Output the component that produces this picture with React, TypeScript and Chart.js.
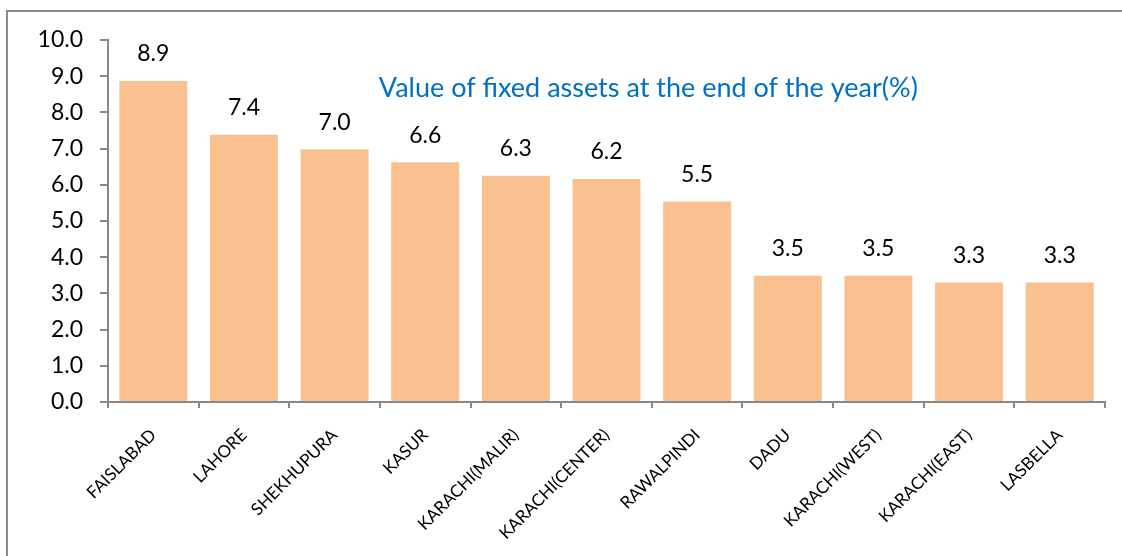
import React, { useEffect, useRef } from "react";
import { Chart, registerables } from "chart.js";

Chart.register(...registerables);

const categories = [
  "FAISLABAD",
  "LAHORE",
  "SHEKHUPURA",
  "KASUR",
  "KARACHI(MALIR)",
  "KARACHI(CENTER)",
  "RAWALPINDI",
  "DADU",
  "KARACHI(WEST)",
  "KARACHI(EAST)",
  "LASBELLA",
];
const values = [8.87, 7.38, 6.98, 6.62, 6.25, 6.16, 5.54, 3.49, 3.49, 3.3, 3.3];
const chartTitle = "Value of fixed assets at the end of the year(%)";
const yMin = 0;
const yMax = 10;
const yStep = 1;

const FONT = "Lato, 'Open Sans', sans-serif";
const AXIS = "#898989";

const framePlugin = {
  id: "frame",
  beforeDraw(chart: any) {
    const ctx = chart.ctx;
    ctx.save();
    ctx.fillStyle = "#ffffff";
    ctx.fillRect(0, 0, chart.width, chart.height);
    ctx.strokeStyle = "#8a8a8a";
    ctx.lineWidth = 2;
    ctx.beginPath();
    ctx.moveTo(7, chart.height + 2);
    ctx.lineTo(7, 11);
    ctx.lineTo(chart.width + 2, 11);
    ctx.stroke();
    ctx.restore();
  },
};

const valueLabelPlugin = {
  id: "valueLabels",
  afterDatasetsDraw(chart: any) {
    const ctx = chart.ctx;
    const meta = chart.getDatasetMeta(0);
    ctx.save();
    ctx.font = `23px ${FONT}`;
    ctx.fillStyle = "#000000";
    ctx.textAlign = "center";
    ctx.textBaseline = "middle";
    meta.data.forEach((bar: any, i: number) => {
      ctx.fillText(values[i].toFixed(1), bar.x, bar.y - 27);
    });
    ctx.restore();
  },
};

const innerTitlePlugin = {
  id: "innerTitle",
  afterDatasetsDraw(chart: any) {
    const { ctx, chartArea } = chart;
    ctx.save();
    ctx.font = `27px ${FONT}`;
    ctx.fillStyle = "#0070C0";
    ctx.textAlign = "center";
    ctx.textBaseline = "middle";
    const x = chartArea.left + (chartArea.right - chartArea.left) * 0.542;
    const y = chartArea.top + (chartArea.bottom - chartArea.top) * 0.133;
    ctx.fillText(chartTitle, x, y);
    ctx.restore();
  },
};

export default function App() {
  const ref = useRef<HTMLCanvasElement | null>(null);

  useEffect(() => {
    if (!ref.current) return;
    const chart = new Chart(ref.current, {
      type: "bar",
      data: {
        labels: categories,
        datasets: [
          {
            data: values,
            backgroundColor: "#FAC090",
            borderWidth: 0,
            categoryPercentage: 1,
            barPercentage: 0.75,
          },
        ],
      },
      options: {
        animation: false,
        responsive: false,
        layout: { padding: { top: 40, right: 17, left: 0, bottom: 0 } },
        plugins: {
          legend: { display: false },
          tooltip: { enabled: false },
          title: { display: false },
        },
        scales: {
          x: {
            grid: {
              display: true,
              drawOnChartArea: false,
              drawTicks: true,
              tickLength: 6,
              color: AXIS,
              lineWidth: 2,
              offset: true,
            },
            border: { display: true, color: AXIS, width: 2 },
            ticks: {
              autoSkip: false,
              minRotation: 45,
              maxRotation: 45,
              padding: 17,
              color: "#000000",
              font: { family: FONT, size: 17 },
            },
            afterFit(scale: any) {
              scale.height = 154;
            },
          },
          y: {
            min: yMin,
            max: yMax,
            grid: {
              display: true,
              drawOnChartArea: false,
              drawTicks: true,
              tickLength: 8,
              color: AXIS,
              lineWidth: 2,
            },
            border: { display: true, color: AXIS, width: 2 },
            ticks: {
              stepSize: yStep,
              padding: 17,
              color: "#000000",
              font: { family: FONT, size: 23 },
              callback: (v: any) => Number(v).toFixed(1),
            },
            afterFit(scale: any) {
              scale.width = 108;
            },
          },
        },
      },
      plugins: [framePlugin, valueLabelPlugin, innerTitlePlugin],
    });
    return () => chart.destroy();
  }, []);

  return (
    <div style={{ position: "fixed", left: 0, top: 0, width: 1122, height: 556 }}>
      <canvas ref={ref} width={1122} height={556} />
    </div>
  );
}
